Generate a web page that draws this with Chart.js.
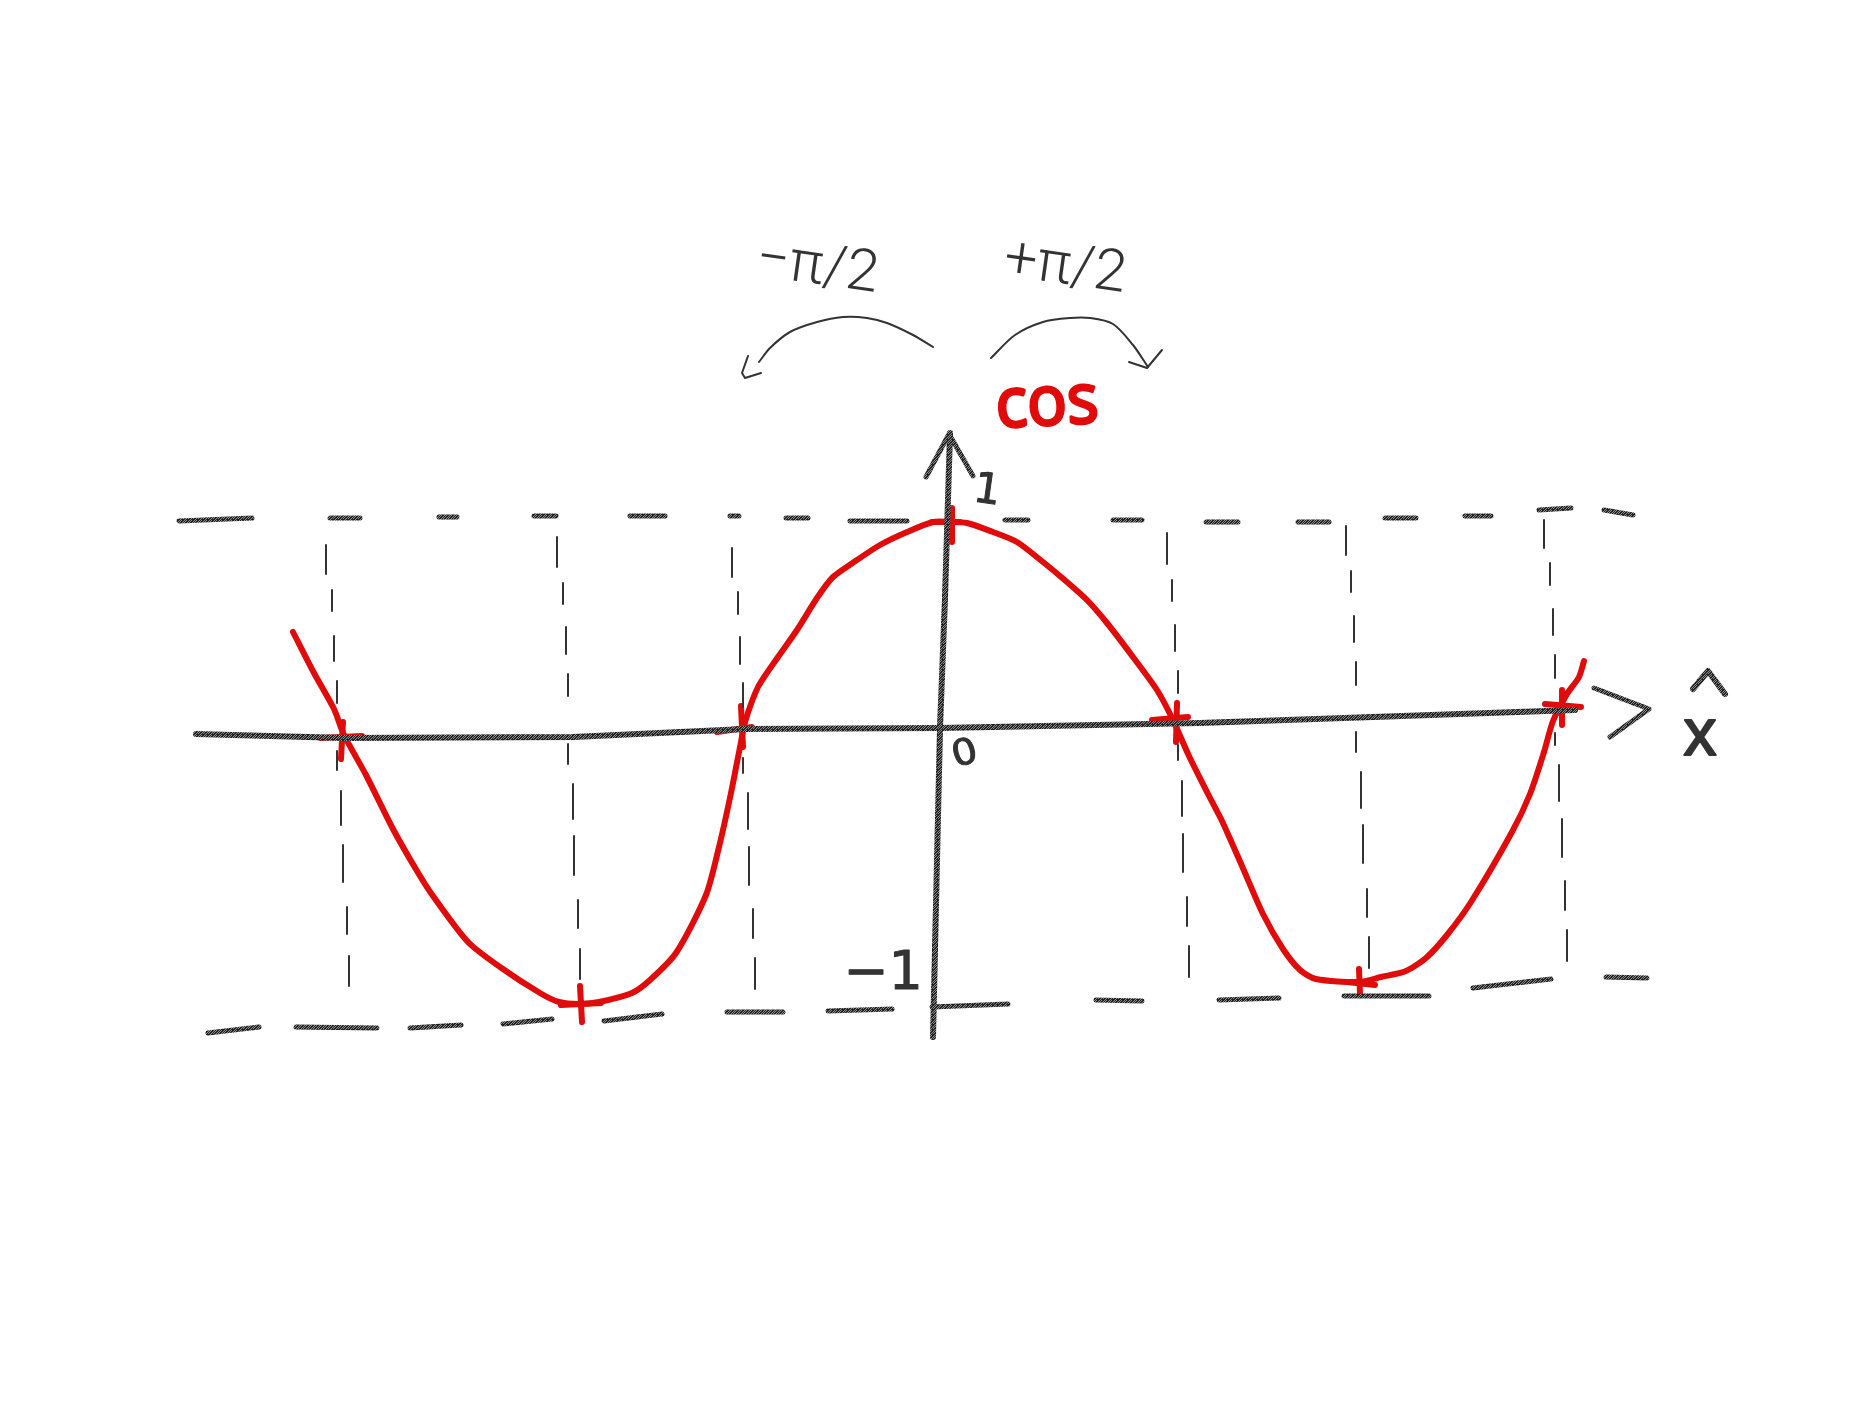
<!DOCTYPE html>
<html>
<head>
<meta charset="utf-8">
<title>cos sketch</title>
<script src="https://cdn.jsdelivr.net/npm/chart.js@4/dist/chart.umd.min.js"></script>
<style>html,body{margin:0;padding:0;background:#fff}canvas{display:block}</style>
</head>
<body>
<canvas id="c" width="1872" height="1404"></canvas>
<script>
// Sketch units: origin at the crossing of the hand-drawn axes.
const xRange = [-945, 927];
const yRange = [-674, 730];

const curveX = [-652,-631,-611,-601,-579,-552,-528,-512,-477,-445,-405,-386,-366,-346,-313,-295,-269,-239,-226,-214,-204,-200,-187,-167,-148,-128,-112,-88,-65,-38,-12,5,22,48,72,98,122,142,162,188,212,228,244,263,277,297,318,338,355,371,414,436,461,481,502,526,567,585,599,608,622,634,639];
const curveY = [98,57,21,-5,-45,-99,-141,-166,-212,-237,-263,-272,-274,-272,-263,-250,-223,-165,-117,-63,-12,8,43,73,100,132,153,170,185,198,208,208,207,198,188,168,148,130,107,73,40,10,-26,-64,-91,-136,-184,-219,-240,-249,-252,-247,-241,-228,-205,-172,-102,-64,-22,9,36,53,69];

// Each red mark: two short strokes [x1,y1,x2,y2]
const marks = [
  [-624,-8,-583,-6],[-602,8,-604,-29],
  [-228,-2,-193,3],[-204,24,-202,-17],
  [-13,208,15,208],[7,222,7,188],
  [207,10,243,13],[232,27,231,-12],
  [-384,-275,-344,-273],[-365,-256,-363,-292],
  [402,-252,430,-255],[414,-239,415,-264],
  [600,26,636,23],[617,40,617,5]
];

const xAxisX = [-749,-600,-372,-200,-5,255,630];
const xAxisY = [-4,-8,-7,1,2,7,20];
const xArrowX = [649,704,665];
const xArrowY = [42,21,-7];
const xHatX = [748,763,780];
const xHatY = [41,59,36];
const yAxisX = [-12,-5,0,5];
const yAxisY = [-307,2,132,297];
const yArrowX = [-19,4,28];
const yArrowY = [253,296,254];

const topDashes = [
  [-766,209,-693,212],[-615,212,-585,212],[-506,213,-488,213],[-411,214,-389,214],
  [-315,214,-280,214],[-215,214,-206,214],[-159,212,-137,212],[-95,209,-38,209],
  [60,210,83,210],[168,210,197,210],[261,208,293,208],[353,208,384,208],
  [440,212,471,212],[520,214,546,214],[594,220,626,222],[659,220,688,215]
];
const bottomDashes = [
  [-737,-303,-686,-297],[-649,-297,-568,-298],[-535,-298,-484,-295],[-442,-294,-393,-289],
  [-341,-291,-283,-284],[-218,-282,-162,-282],[-117,-281,-53,-279],[-13,-277,63,-274],
  [151,-270,197,-271],[274,-270,334,-268],[399,-266,484,-266],[528,-258,606,-249],[661,-247,702,-248]
];

// Vertical guides, one dash per entry: [x, top, bottom]
const guide1 = [[-619,185,156],[-613,140,119],[-611,94,69],[-608,49,27],[-608,-21,-40],[-604,-61,-95],[-602,-115,-152],[-598,-177,-204],[-596,-226,-256]];
const guide2 = [[-388,193,163],[-382,147,126],[-379,103,76],[-377,56,34],[-377,-14,-34],[-372,-54,-89],[-371,-106,-145],[-367,-170,-198],[-365,-219,-249]];
const guide3 = [[-213,182,153],[-207,138,116],[-205,93,66],[-202,47,23],[-202,-28,-43],[-197,-63,-99],[-196,-117,-155],[-192,-179,-208],[-190,-228,-259]];
const guide4 = [[222,197,166],[227,150,129],[230,105,79],[233,59,37],[233,-15,-30],[237,-51,-86],[238,-104,-142],[242,-167,-196],[244,-216,-247]];
const guide5 = [[401,204,175],[406,159,138],[409,114,88],[411,68,45],[411,-2,-22],[416,-42,-78],[418,-95,-133],[422,-159,-187],[424,-207,-238]];
const guide6 = [[599,210,182],[605,167,145],[608,121,95],[610,75,52],[610,-3,-15],[614,-35,-71],[617,-89,-127],[620,-151,-180],[622,-200,-231]];

const arcLeftX = [-12,-32,-58,-78,-102,-128,-155,-175,-186];
const arcLeftY = [383,395,407,412,413,408,398,382,368];
const arcLeftHeadX = [-197,-203,-200,-184];
const arcLeftHeadY = [374,357,352,357];
const arcRightX = [46,70,98,125,145,168,188,203];
const arcRightY = [372,395,408,412,412,406,385,363];
const arcRightHeadX = [184,202,217];
const arcRightHeadY = [368,362,380];

const labelTexts = ['cos','\u2212\u03c0/2','+\u03c0/2','1','0','\u22121','x'];
const labelX = [102,-128,120,42,20,-62,755];
const labelY = [325,461,461,238,-25,-245,-7];

const INK = '#333333';
const RED = '#e00b0b';

// Speckled pencil texture for the heavy strokes.
const grainRows = ['10110','01101','11010','10101','01111'];
function pencil() {
  const t = document.createElement('canvas');
  t.width = t.height = 5;
  const g = t.getContext('2d');
  grainRows.forEach((row, j) => [...row].forEach((v, i) => {
    g.fillStyle = v === '1' ? '#222222' : '#8c8c8c';
    g.fillRect(i, j, 1, 1);
  }));
  return g.createPattern(t, 'repeat');
}
const GRAIN = pencil();

const zip = (xs, ys) => xs.map((x, i) => ({x, y: ys[i]}));
const segs = list => list.flatMap(s => [{x:s[0],y:s[1]},{x:s[2],y:s[3]},{x:s[2],y:null}]);
const vert = list => list.flatMap(s => [{x:s[0],y:s[1]},{x:s[0],y:s[2]},{x:s[0],y:null}]);
const stroke = (data, color, width, tension) => ({
  data, borderColor: color, borderWidth: width, tension: tension || 0,
  pointRadius: 0, fill: false, spanGaps: false, borderCapStyle: 'round', borderJoinStyle: 'round', clip: false
});

const labelStyles = [
  {font:'400 66px "Open Sans"', color:RED, rot:-3, sy:1.05, outline:3},
  {font:'300 58px Roboto', color:INK, rot:8, sy:1, outline:0},
  {font:'300 58px Roboto', color:INK, rot:8, sy:1, outline:0},
  {font:'400 42px "DejaVu Sans"', color:INK, rot:8, sy:1, outline:1},
  {font:'400 40px "DejaVu Sans"', color:INK, rot:-15, sy:0.9, outline:1},
  {font:'400 54px "DejaVu Sans"', color:INK, rot:0, sy:1, outline:1},
  {font:'400 66px "Liberation Sans"', color:INK, rot:0, sy:1, outline:2}
];

const textPlugin = {
  id: 'sketchText',
  afterDatasetsDraw(chart) {
    const {ctx, scales} = chart;
    labelTexts.forEach((t, i) => {
      const st = labelStyles[i];
      ctx.save();
      ctx.translate(scales.x.getPixelForValue(labelX[i]), scales.y.getPixelForValue(labelY[i]));
      ctx.rotate(st.rot * Math.PI / 180);
      ctx.scale(1, st.sy);
      ctx.font = st.font;
      ctx.fillStyle = st.color;
      ctx.textAlign = 'center';
      ctx.textBaseline = 'middle';
      ctx.fillText(t, 0, 0);
      if (st.outline) {
        ctx.strokeStyle = st.color;
        ctx.lineWidth = st.outline;
        ctx.lineJoin = 'round';
        ctx.strokeText(t, 0, 0);
      }
      ctx.restore();
    });
  }
};

new Chart(document.getElementById('c'), {
  type: 'line',
  data: { datasets: [
    stroke(vert(guide1), INK, 2),
    stroke(vert(guide2), INK, 2),
    stroke(vert(guide3), INK, 2),
    stroke(vert(guide4), INK, 2),
    stroke(vert(guide5), INK, 2),
    stroke(vert(guide6), INK, 2),
    stroke(segs(topDashes), GRAIN, 5),
    stroke(segs(bottomDashes), GRAIN, 5),
    stroke(zip(xAxisX, xAxisY), GRAIN, 6),
    stroke(zip(yAxisX, yAxisY), GRAIN, 6),
    stroke(zip(xArrowX, xArrowY), GRAIN, 5),
    stroke(zip(yArrowX, yArrowY), GRAIN, 5),
    stroke(zip(xHatX, xHatY), GRAIN, 6),
    stroke(zip(arcLeftX, arcLeftY), INK, 2, 0.3),
    stroke(zip(arcLeftHeadX, arcLeftHeadY), INK, 2),
    stroke(zip(arcRightX, arcRightY), INK, 2, 0.3),
    stroke(zip(arcRightHeadX, arcRightHeadY), INK, 2),
    stroke(zip(curveX, curveY), RED, 6, 0.25),
    stroke(segs(marks), RED, 6)
  ]},
  options: {
    responsive: false,
    animation: false,
    layout: { padding: 0 },
    plugins: { legend: {display:false}, tooltip: {enabled:false} },
    scales: {
      x: { type:'linear', min:xRange[0], max:xRange[1], display:false },
      y: { type:'linear', min:yRange[0], max:yRange[1], display:false }
    }
  },
  plugins: [textPlugin]
});
</script>
</body>
</html>
